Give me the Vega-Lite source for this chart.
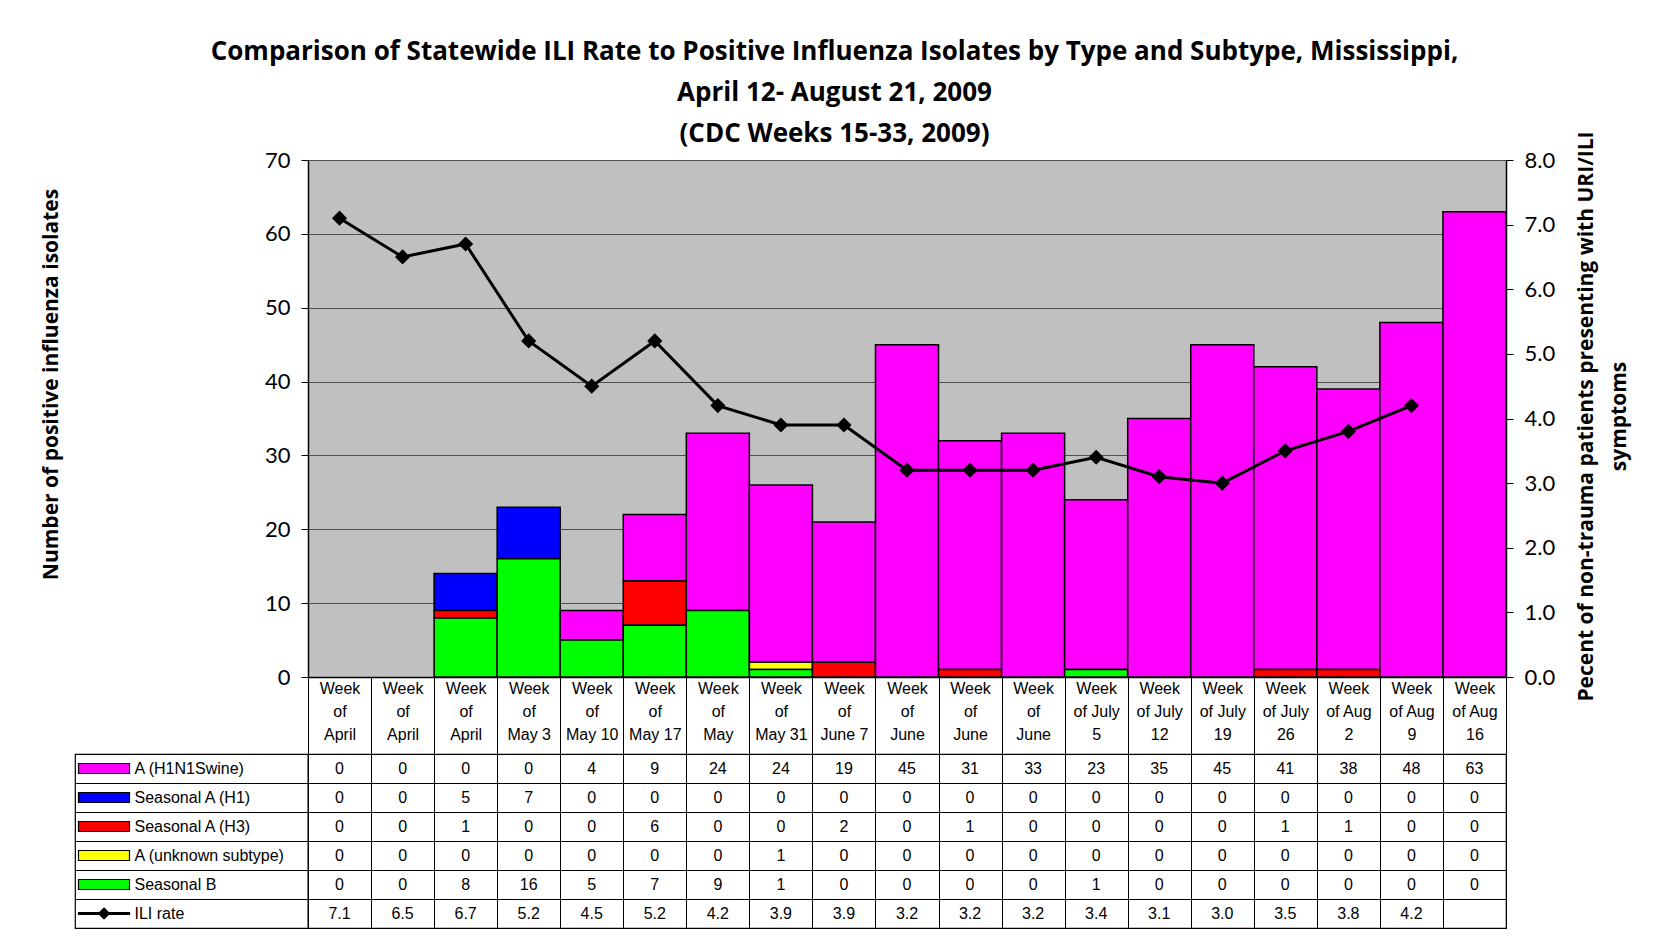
{
  "$schema": "https://vega.github.io/schema/vega-lite/v6.json",
  "padding": {"left": 39, "top": 39, "right": 25, "bottom": 15},
  "background": "white",
  "title": {
    "text": ["Comparison of Statewide ILI Rate to Positive Influenza Isolates by Type and Subtype, Mississippi,", "April 12- August 21, 2009", "(CDC Weeks 15-33, 2009)"],
    "font": "Open Sans", "fontSize": 26, "fontWeight": "bold", "lineHeight": 41, "color": "black", "anchor": "middle", "offset": -17
  },
  "datasets": {
    "weeks": [
      {"wk": "15|Week|of|April", "A (H1N1Swine)": 0, "Seasonal A (H1)": 0, "Seasonal A (H3)": 0, "A (unknown subtype)": 0, "Seasonal B": 0, "ILI rate": 7.1},
      {"wk": "16|Week|of|April", "A (H1N1Swine)": 0, "Seasonal A (H1)": 0, "Seasonal A (H3)": 0, "A (unknown subtype)": 0, "Seasonal B": 0, "ILI rate": 6.5},
      {"wk": "17|Week|of|April", "A (H1N1Swine)": 0, "Seasonal A (H1)": 5, "Seasonal A (H3)": 1, "A (unknown subtype)": 0, "Seasonal B": 8, "ILI rate": 6.7},
      {"wk": "18|Week|of|May 3", "A (H1N1Swine)": 0, "Seasonal A (H1)": 7, "Seasonal A (H3)": 0, "A (unknown subtype)": 0, "Seasonal B": 16, "ILI rate": 5.2},
      {"wk": "19|Week|of|May 10", "A (H1N1Swine)": 4, "Seasonal A (H1)": 0, "Seasonal A (H3)": 0, "A (unknown subtype)": 0, "Seasonal B": 5, "ILI rate": 4.5},
      {"wk": "20|Week|of|May 17", "A (H1N1Swine)": 9, "Seasonal A (H1)": 0, "Seasonal A (H3)": 6, "A (unknown subtype)": 0, "Seasonal B": 7, "ILI rate": 5.2},
      {"wk": "21|Week|of|May", "A (H1N1Swine)": 24, "Seasonal A (H1)": 0, "Seasonal A (H3)": 0, "A (unknown subtype)": 0, "Seasonal B": 9, "ILI rate": 4.2},
      {"wk": "22|Week|of|May 31", "A (H1N1Swine)": 24, "Seasonal A (H1)": 0, "Seasonal A (H3)": 0, "A (unknown subtype)": 1, "Seasonal B": 1, "ILI rate": 3.9},
      {"wk": "23|Week|of|June 7", "A (H1N1Swine)": 19, "Seasonal A (H1)": 0, "Seasonal A (H3)": 2, "A (unknown subtype)": 0, "Seasonal B": 0, "ILI rate": 3.9},
      {"wk": "24|Week|of|June", "A (H1N1Swine)": 45, "Seasonal A (H1)": 0, "Seasonal A (H3)": 0, "A (unknown subtype)": 0, "Seasonal B": 0, "ILI rate": 3.2},
      {"wk": "25|Week|of|June", "A (H1N1Swine)": 31, "Seasonal A (H1)": 0, "Seasonal A (H3)": 1, "A (unknown subtype)": 0, "Seasonal B": 0, "ILI rate": 3.2},
      {"wk": "26|Week|of|June", "A (H1N1Swine)": 33, "Seasonal A (H1)": 0, "Seasonal A (H3)": 0, "A (unknown subtype)": 0, "Seasonal B": 0, "ILI rate": 3.2},
      {"wk": "27|Week|of July|5", "A (H1N1Swine)": 23, "Seasonal A (H1)": 0, "Seasonal A (H3)": 0, "A (unknown subtype)": 0, "Seasonal B": 1, "ILI rate": 3.4},
      {"wk": "28|Week|of July|12", "A (H1N1Swine)": 35, "Seasonal A (H1)": 0, "Seasonal A (H3)": 0, "A (unknown subtype)": 0, "Seasonal B": 0, "ILI rate": 3.1},
      {"wk": "29|Week|of July|19", "A (H1N1Swine)": 45, "Seasonal A (H1)": 0, "Seasonal A (H3)": 0, "A (unknown subtype)": 0, "Seasonal B": 0, "ILI rate": 3.0},
      {"wk": "30|Week|of July|26", "A (H1N1Swine)": 41, "Seasonal A (H1)": 0, "Seasonal A (H3)": 1, "A (unknown subtype)": 0, "Seasonal B": 0, "ILI rate": 3.5},
      {"wk": "31|Week|of Aug|2", "A (H1N1Swine)": 38, "Seasonal A (H1)": 0, "Seasonal A (H3)": 1, "A (unknown subtype)": 0, "Seasonal B": 0, "ILI rate": 3.8},
      {"wk": "32|Week|of Aug|9", "A (H1N1Swine)": 48, "Seasonal A (H1)": 0, "Seasonal A (H3)": 0, "A (unknown subtype)": 0, "Seasonal B": 0, "ILI rate": 4.2},
      {"wk": "33|Week|of Aug|16", "A (H1N1Swine)": 63, "Seasonal A (H1)": 0, "Seasonal A (H3)": 0, "A (unknown subtype)": 0, "Seasonal B": 0, "ILI rate": null}
    ],
    "series": [
      {"series": "A (H1N1Swine)"},
      {"series": "Seasonal A (H1)"},
      {"series": "Seasonal A (H3)"},
      {"series": "A (unknown subtype)"},
      {"series": "Seasonal B"},
      {"series": "ILI rate"}
    ]
  },
  "columns": 2,
  "bounds": "flush",
  "spacing": {"row": 77, "column": 0},
  "concat": [
    {
      "width": 233, "height": 517,
      "data": {"values": []},
      "mark": "point",
      "view": {"stroke": null}
    },
    {
      "width": 1198, "height": 517,
      "data": {"name": "weeks"},
      "view": {"fill": "#C0C0C0", "stroke": "#808080"},
      "encoding": {
        "x": {
          "field": "wk", "type": "nominal", "sort": null,
          "scale": {
            "domain": ["15|Week|of|April", "16|Week|of|April", "17|Week|of|April", "18|Week|of|May 3", "19|Week|of|May 10", "20|Week|of|May 17", "21|Week|of|May", "22|Week|of|May 31", "23|Week|of|June 7", "24|Week|of|June", "25|Week|of|June", "26|Week|of|June", "27|Week|of July|5", "28|Week|of July|12", "29|Week|of July|19", "30|Week|of July|26", "31|Week|of Aug|2", "32|Week|of Aug|9", "33|Week|of Aug|16"],
            "paddingInner": 0, "paddingOuter": 0
          },
          "axis": {
            "orient": "bottom", "title": null,
            "labelExpr": "slice(split(datum.label, '|'), 1)",
            "labelAngle": 0, "labelFont": "Liberation Sans", "labelFontSize": 16, "labelLineHeight": 23,
            "labelColor": "black", "labelBaseline": "top", "labelPadding": -74,
            "labelFlush": false, "labelOverlap": false, "labelBound": false,
            "tickBand": "extent", "tickSize": 77, "tickColor": "black", "tickWidth": 1,
            "domainColor": "black", "domainWidth": 1.5
          }
        }
      },
      "layer": [
        {
          "transform": [
            {"fold": ["A (H1N1Swine)", "Seasonal A (H1)", "Seasonal A (H3)", "A (unknown subtype)", "Seasonal B"], "as": ["series", "count"]},
            {"filter": "datum.count > 0"}
          ],
          "mark": {"type": "bar", "stroke": "black", "strokeWidth": 1.5},
          "encoding": {
            "y": {
              "field": "count", "type": "quantitative", "stack": "zero",
              "scale": {"domain": [0, 70], "nice": false},
              "axis": {
                "values": [0, 10, 20, 30, 40, 50, 60, 70],
                "title": "Number of positive influenza isolates",
                "titleFont": "Open Sans", "titleFontSize": 21, "titleFontWeight": "bold", "titleColor": "black",
                "titleAngle": 270, "titleBaseline": "middle", "titleAlign": "center", "titleX": -257, "titleY": 224,
                "labelFont": "Lato", "labelFontSize": 22, "labelColor": "black", "labelPadding": 11,
                "tickSize": 7, "tickColor": "black", "domainColor": "black", "domainWidth": 1.5,
                "grid": true, "gridColor": "#505050", "gridWidth": 1
              }
            },
            "color": {
              "field": "series", "type": "nominal",
              "scale": {
                "domain": ["A (H1N1Swine)", "Seasonal A (H1)", "Seasonal A (H3)", "A (unknown subtype)", "Seasonal B", "ILI rate"],
                "range": ["#FF00FF", "#0000FF", "#FF0000", "#FFFF00", "#00FF00", "#000000"]
              },
              "legend": null
            },
            "order": {"field": "series", "sort": "descending"}
          }
        },
        {
          "mark": {"type": "line", "color": "black", "strokeWidth": 3, "point": {"shape": "diamond", "size": 230, "filled": true, "color": "black"}},
          "encoding": {
            "y": {
              "field": "ILI rate", "type": "quantitative",
              "scale": {"domain": [0, 8], "nice": false},
              "axis": {
                "orient": "right", "values": [0, 1, 2, 3, 4, 5, 6, 7, 8], "format": ".1f",
                "title": ["Pecent of non-trauma patients presenting with URI/ILI", "symptoms"],
                "titleFont": "Open Sans", "titleFontSize": 21, "titleFontWeight": "bold", "titleColor": "black", "titleLineHeight": 33,
                "titleAngle": 270, "titleBaseline": "middle", "titleAlign": "center", "titleX": 80, "titleY": 256,
                "labelFont": "Lato", "labelFontSize": 22, "labelColor": "black", "labelPadding": 11,
                "tickSize": 7, "tickColor": "black", "domainColor": "black", "domainWidth": 1.5,
                "grid": false
              }
            }
          }
        }
      ],
      "resolve": {"scale": {"y": "independent"}}
    },
    {
      "width": 233, "height": 174,
      "data": {"name": "series"},
      "view": {"stroke": "black", "strokeWidth": 1.2},
      "encoding": {
        "y": {
          "field": "series", "type": "nominal", "sort": null,
          "scale": {"domain": ["A (H1N1Swine)", "Seasonal A (H1)", "Seasonal A (H3)", "A (unknown subtype)", "Seasonal B", "ILI rate"], "paddingInner": 0, "paddingOuter": 0},
          "axis": {"title": null, "labels": false, "ticks": false, "domain": false, "grid": true, "tickBand": "extent", "gridColor": "black", "gridWidth": 1}
        }
      },
      "layer": [
        {
          "mark": {"type": "point", "filled": true, "stroke": "black", "strokeWidth": 1.2, "size": 400, "opacity": 1},
          "encoding": {
            "shape": {
              "field": "series", "type": "nominal",
              "scale": {
                "domain": ["A (H1N1Swine)", "Seasonal A (H1)", "Seasonal A (H3)", "A (unknown subtype)", "Seasonal B", "ILI rate"],
                "range": [
                  "M-11.3,-0.5H-6.2V0.5H-11.3Z",
                  "M-11.3,-0.5H-6.2V0.5H-11.3Z",
                  "M-11.3,-0.5H-6.2V0.5H-11.3Z",
                  "M-11.3,-0.5H-6.2V0.5H-11.3Z",
                  "M-11.3,-0.5H-6.2V0.5H-11.3Z",
                  "M-11.3,-0.1H-6.2V0.1H-11.3Z M-8.75,-0.55L-8.2,0L-8.75,0.55L-9.3,0Z"
                ]
              },
              "legend": null
            },
            "color": {
              "field": "series", "type": "nominal",
              "scale": {
                "domain": ["A (H1N1Swine)", "Seasonal A (H1)", "Seasonal A (H3)", "A (unknown subtype)", "Seasonal B", "ILI rate"],
                "range": ["#FF00FF", "#0000FF", "#FF0000", "#FFFF00", "#00FF00", "#000000"]
              },
              "legend": null
            }
          }
        },
        {
          "mark": {"type": "text", "align": "left", "dx": -57, "font": "Liberation Sans", "fontSize": 16, "color": "black"},
          "encoding": {"text": {"field": "series", "type": "nominal"}}
        }
      ]
    },
    {
      "width": 1198, "height": 174,
      "data": {"name": "weeks"},
      "view": {"stroke": "black", "strokeWidth": 1.2},
      "transform": [
        {"fold": ["A (H1N1Swine)", "Seasonal A (H1)", "Seasonal A (H3)", "A (unknown subtype)", "Seasonal B", "ILI rate"], "as": ["series", "value"]},
        {"filter": "datum.value != null"}
      ],
      "encoding": {
        "x": {
          "field": "wk", "type": "nominal", "sort": null,
          "scale": {
            "domain": ["15|Week|of|April", "16|Week|of|April", "17|Week|of|April", "18|Week|of|May 3", "19|Week|of|May 10", "20|Week|of|May 17", "21|Week|of|May", "22|Week|of|May 31", "23|Week|of|June 7", "24|Week|of|June", "25|Week|of|June", "26|Week|of|June", "27|Week|of July|5", "28|Week|of July|12", "29|Week|of July|19", "30|Week|of July|26", "31|Week|of Aug|2", "32|Week|of Aug|9", "33|Week|of Aug|16"],
            "paddingInner": 0, "paddingOuter": 0
          },
          "axis": {"title": null, "labels": false, "ticks": false, "domain": false, "grid": true, "tickBand": "extent", "gridColor": "black", "gridWidth": 1}
        },
        "y": {
          "field": "series", "type": "nominal",
          "scale": {"domain": ["A (H1N1Swine)", "Seasonal A (H1)", "Seasonal A (H3)", "A (unknown subtype)", "Seasonal B", "ILI rate"], "paddingInner": 0, "paddingOuter": 0},
          "axis": {"title": null, "labels": false, "ticks": false, "domain": false, "grid": true, "tickBand": "extent", "gridColor": "black", "gridWidth": 1}
        }
      },
      "layer": [
        {
          "transform": [{"filter": "datum.series != 'ILI rate'"}],
          "mark": {"type": "text", "font": "Liberation Sans", "fontSize": 16, "color": "black"},
          "encoding": {"text": {"field": "value", "type": "quantitative", "format": "d"}}
        },
        {
          "transform": [{"filter": "datum.series == 'ILI rate'"}],
          "mark": {"type": "text", "font": "Liberation Sans", "fontSize": 16, "color": "black"},
          "encoding": {"text": {"field": "value", "type": "quantitative", "format": ".1f"}}
        }
      ]
    }
  ]
}
